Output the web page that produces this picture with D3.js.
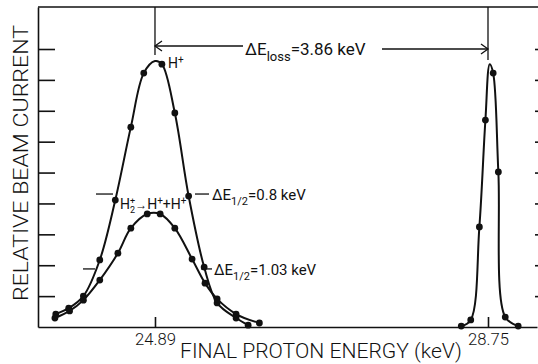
<!DOCTYPE html>
<html>
<head>
<meta charset="utf-8">
<script src="https://cdn.jsdelivr.net/npm/d3@7"></script>
<style>
  body { margin: 0; background: #fff; }
  svg { display: block; }
  text { font-family: Roboto, "Liberation Sans", sans-serif; font-weight: 400; fill: #111; }
  .axis path, .axis line { stroke: #111; stroke-width: 1.6; }
</style>
</head>
<body>
<svg width="538" height="364"></svg>
<script>
// H+ peak after the gas cell (dots)
let hPlusEnergy  = [23.74, 23.89, 24.06, 24.25, 24.43, 24.61, 24.76, 24.97, 25.12, 25.28, 25.46, 25.61, 25.83, 25.97];
let hPlusCurrent = [0.42, 0.61, 1.00, 2.17, 4.11, 6.47, 8.22, 8.51, 6.93, 4.24, 1.94, 0.78, 0.29, 0.06];

// H2+ -> H+ + H+ breakup protons
let h2Energy  = [23.73, 23.90, 24.06, 24.25, 24.46, 24.61, 24.80, 24.95, 25.12, 25.32, 25.47, 25.61, 25.83, 26.10];
let h2Current = [0.29, 0.52, 0.87, 1.52, 2.39, 3.20, 3.66, 3.66, 3.20, 2.20, 1.42, 0.91, 0.42, 0.13];

// direct beam at 28.75 keV
let beamEnergy  = [28.44, 28.55, 28.65, 28.72, 28.81, 28.87, 28.95, 29.10];
let beamCurrent = [0.03, 0.23, 3.24, 6.70, 8.22, 5.02, 0.32, 0.03];

// tops of the hand drawn curves (no dot there)
let apexEnergy  = [24.89, 28.77];
let apexCurrent = [8.61, 8.51];

let xTicks = [24.89, 28.75];
let yTicks = [1, 2, 3, 4, 5, 6, 7, 8, 9];

let svg = d3.select("svg");

let x = d3.scaleLinear().domain([23.534, 29.318]).range([38, 537]);
let y = d3.scaleLinear().domain([0, 10.36]).range([327, 7]);

// frame
svg.append("g")
    .classed("axis", true)
    .attr("transform", "translate(38,0)")
    .call(d3.axisLeft(y).tickValues(yTicks).tickSize(-17).tickSizeOuter(0).tickFormat(""));

svg.append("g")
    .classed("axis", true)
    .attr("transform", "translate(552,0)")
    .call(d3.axisRight(y).tickValues(yTicks).tickSize(-17).tickSizeOuter(0).tickFormat(""));

svg.append("line")
    .attr("x1", 38).attr("x2", 538)
    .attr("y1", 7).attr("y2", 7)
    .attr("stroke", "#111").attr("stroke-width", 1.6);

let xAxis = svg.append("g")
    .classed("axis", true)
    .attr("transform", "translate(0,327)")
    .call(d3.axisBottom(x).tickValues(xTicks).tickSize(-10).tickSizeOuter(0).tickFormat(d3.format(".2f")));

xAxis.selectAll("text")
    .attr("y", 18)
    .attr("dy", 0)
    .attr("textLength", 41)
    .attr("lengthAdjust", "spacingAndGlyphs")
    .style("font-size", "17px")
    .style("font-family", "Roboto, sans-serif")
    .style("font-weight", 300)
    .style("fill", "#111");

// curves
let toPts = (es, vs) => es.map((e, i) => [e, vs[i]]);
let withApex = (pts, k) => pts.concat([[apexEnergy[k], apexCurrent[k]]]).sort((a, b) => a[0] - b[0]);

let line = d3.line()
    .x(d => x(d[0]))
    .y(d => y(d[1]))
    .curve(d3.curveCatmullRom.alpha(0.5));

let hPlus = toPts(hPlusEnergy, hPlusCurrent);
let h2 = toPts(h2Energy, h2Current);
let beam = toPts(beamEnergy, beamCurrent);

[withApex(hPlus, 0), h2, withApex(beam, 1)].forEach(pts => {
    svg.append("path")
        .attr("d", line(pts))
        .attr("fill", "none")
        .attr("stroke", "#111")
        .attr("stroke-width", 2);
});

svg.selectAll(".dot")
    .data(hPlus.concat(h2, beam))
    .enter()
    .append("circle")
    .classed("dot", true)
    .attr("cx", d => x(d[0]))
    .attr("cy", d => y(d[1]))
    .attr("r", 3.4)
    .attr("fill", "#111");

// energy loss marker
let ann = svg.append("g").attr("stroke", "#111").attr("stroke-width", 1.3).attr("fill", "none");
ann.append("line").attr("x1", x(24.89)).attr("x2", x(24.89)).attr("y1", 7).attr("y2", 55);
ann.append("line").attr("x1", x(28.75)).attr("x2", x(28.75)).attr("y1", 7).attr("y2", 60);
ann.append("line").attr("x1", x(24.89)).attr("x2", 243).attr("y1", 46).attr("y2", 46);
ann.append("path").attr("d", `M${x(24.89) + 7},41 L${x(24.89)},46 L${x(24.89) + 7},51`);
ann.append("line").attr("x1", 382).attr("x2", x(28.75)).attr("y1", 49).attr("y2", 49);
ann.append("path").attr("d", `M${x(28.75) - 7},44 L${x(28.75)},49 L${x(28.75) - 7},54`);

let loss = svg.append("text").attr("x", 245).attr("y", 55).style("font-size", "17px");
loss.append("tspan").text("\u0394E");
loss.append("tspan").attr("dy", 6).style("font-size", "13px").text("loss");
loss.append("tspan").attr("dy", -6).text("=3.86 keV");

// half-width markers
let halfH = apexCurrent[0] / 2;
let halfB = d3.max(h2Current) / 2 + 0.05;
ann.append("line").attr("x1", 96).attr("x2", 113).attr("y1", y(halfH)).attr("y2", y(halfH));
ann.append("line").attr("x1", 195).attr("x2", 209).attr("y1", y(halfH)).attr("y2", y(halfH));
ann.append("line").attr("x1", 83).attr("x2", 95).attr("y1", y(halfB)).attr("y2", y(halfB));
ann.append("line").attr("x1", 201).attr("x2", 212).attr("y1", y(halfB)).attr("y2", y(halfB));

function halfLabel(x0, y0, value) {
    let t = svg.append("text").attr("x", x0).attr("y", y0).style("font-size", "15px");
    t.append("tspan").text("\u0394E");
    t.append("tspan").attr("dy", 5).style("font-size", "11px").text("1/2");
    t.append("tspan").attr("dy", -5).text("=" + value + " keV");
}
halfLabel(212, y(halfH) + 6, "0.8");
halfLabel(214, y(halfB) + 6, "1.03");

// peak labels
let hp = svg.append("text").attr("x", 168).attr("y", 68).style("font-size", "14px");
hp.append("tspan").text("H");
hp.append("tspan").attr("dy", -5).style("font-size", "10px").text("+");

let br = svg.append("text").attr("x", 120).attr("y", 209).style("font-size", "14px");
br.append("tspan").text("H");
br.append("tspan").attr("dy", -5).style("font-size", "9px").text("+");
br.append("tspan").attr("dx", -5).attr("dy", 9).style("font-size", "9px").text("2");
br.append("tspan").attr("dy", -4).style("font-size", "12px").text("\u2192");
br.append("tspan").text("H");
br.append("tspan").attr("dy", -5).style("font-size", "10px").text("+");
br.append("tspan").attr("dy", 5).text("+H");
br.append("tspan").attr("dy", -5).style("font-size", "10px").text("+");

// axis titles
svg.append("text")
    .attr("x", 321).attr("y", 358)
    .attr("text-anchor", "middle")
    .attr("textLength", 282)
    .attr("lengthAdjust", "spacingAndGlyphs")
    .style("font-size", "20px")
    .style("font-weight", 300)
    .text("FINAL PROTON ENERGY (keV)");

svg.append("text")
    .attr("transform", "translate(28,163) rotate(-90)")
    .attr("text-anchor", "middle")
    .attr("textLength", 276)
    .attr("lengthAdjust", "spacingAndGlyphs")
    .style("font-size", "21px")
    .style("font-weight", 300)
    .text("RELATIVE BEAM CURRENT");
</script>
</body>
</html>
